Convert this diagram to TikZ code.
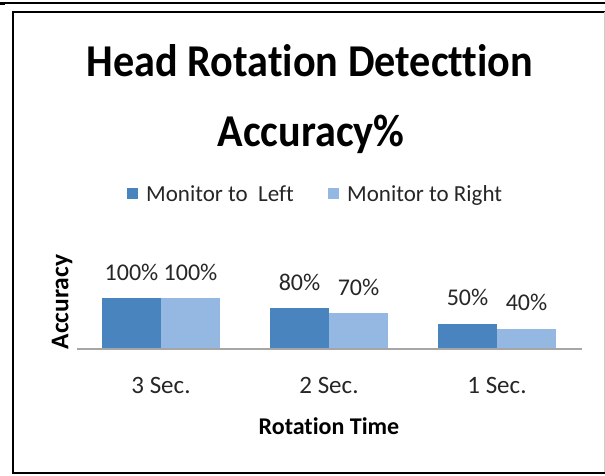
\documentclass[tikz,border=0pt]{standalone}
\usepackage{fontspec}
\setmainfont{Carlito}[Ligatures={NoCommon}]
\definecolor{barDark}{HTML}{4A84BE}
\definecolor{barLight}{HTML}{95B8E2}
\definecolor{axisGray}{HTML}{A6A6A6}
\begin{document}
\begin{tikzpicture}[x=1pt,y=-1pt,
  val/.style={anchor=base,font=\fontsize{24}{28}\selectfont,text=black!85,inner sep=0pt},
  cat/.style={anchor=base,font=\fontsize{25}{28}\selectfont,text=black!85,inner sep=0pt},
  leg/.style={anchor=base west,font=\fontsize{23}{26}\selectfont,text=black!85,inner sep=0pt},
  title/.style={anchor=base,font=\bfseries\fontsize{42.2}{48}\selectfont,inner sep=0pt},
  axtitle/.style={font=\bfseries\fontsize{24}{28}\selectfont,inner sep=0pt}]
\useasboundingbox (0,0) rectangle (605,475);
% top rule
\draw[line width=1.2pt] (0,3) -- (605,3);
\fill (0,2.2) rectangle (5,5);
% frame
\draw[line width=2pt] (605,11.5) -- (12.5,11.5) -- (12.5,473) -- (605,473);
\draw[black!20,line width=0.8pt] (604,12) -- (604,472);
% title
\node[title] (t1) at (310,76) {\scalebox{1}[1.08]{Head Rotation Detecttion}};
\node[title] (t2) at (311,146) {\scalebox{1}[1.08]{Accuracy\%}};
% legend
\fill[barDark] (127,188) rectangle (138,199);
\node[leg] (l1) at (146,201) {Monitor to\ \ Left};
\fill[barLight] (328,188) rectangle (339,199);
\node[leg] (l2) at (347,201) {Monitor to Right};
% bars
\foreach \c/\a/\b [count=\i] in {161/100/100, 329/80/70, 497/50/40} {
  \fill[barDark] (\c-59,349) rectangle (\c,349-0.51*\a);
  \fill[barLight] (\c,349) rectangle (\c+59,349-0.51*\b);
  \node[val] (va\i) at (\c-29.5,349-0.51*\a-18) {\a\%};
  \node[val] (vb\i) at (\c+29.5,349-0.51*\b-18) {\b\%};
}
% axis
\draw[axisGray,line width=1.2pt] (77,349) -- (582,349);
\node[cat] (c1) at (161,393) {3 Sec.};
\node[cat] (c2) at (329,393) {2 Sec.};
\node[cat] (c3) at (497,393) {1 Sec.};
\node[axtitle,anchor=base] (xt) at (329,434) {Rotation Time};
\node[axtitle,font=\bfseries\fontsize{25.5}{28}\selectfont,rotate=90] (yt) at (62,302) {Accuracy};
\end{tikzpicture}
\end{document}
